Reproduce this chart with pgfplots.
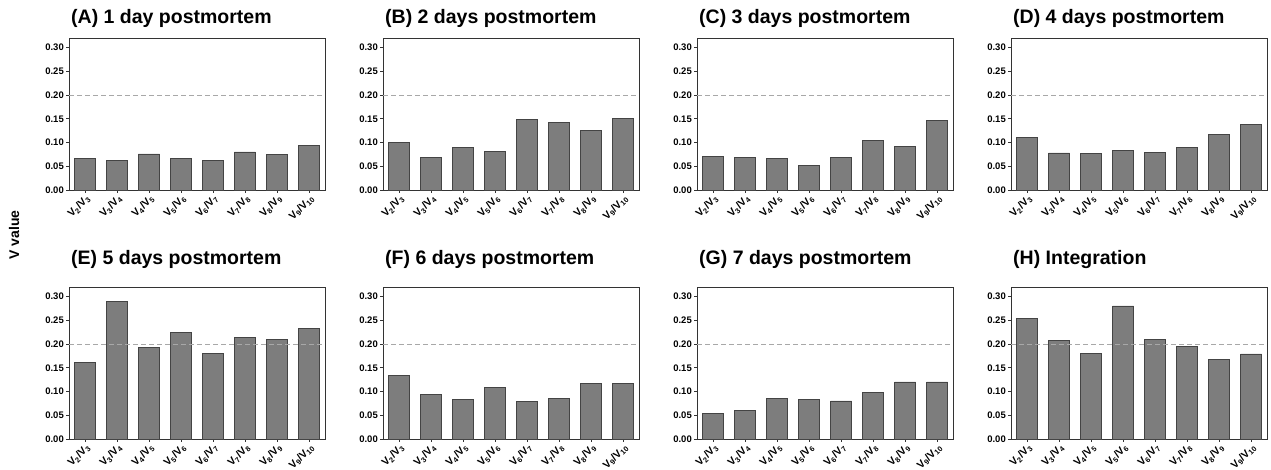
\documentclass[border=0pt]{standalone}
\usepackage{fontspec}
\setmainfont{Liberation Sans}
\usepackage{pgfplots}
\pgfplotsset{compat=1.18}
\definecolor{barfill}{HTML}{7D7D7D}
\definecolor{baredge}{HTML}{444444}
\definecolor{refline}{HTML}{A8A8A8}
\newcommand{\vv}[2]{V\textsubscript{#1}/V\textsubscript{#2}}
\pgfplotsset{panel/.style={
  scale only axis, width=256pt, height=152pt, anchor=south west,
  xmin=-0.5, xmax=7.5, ymin=0, ymax=0.32,
  ytick={0,0.05,0.10,0.15,0.20,0.25,0.30},
  yticklabel style={font=\bfseries\fontsize{9.5}{10}\selectfont, inner sep=2pt,
    /pgf/number format/.cd, fixed, fixed zerofill, precision=2, assume math mode=true},
  xtick={0,...,7},
  xticklabels={\vv{2}{3},\vv{3}{4},\vv{4}{5},\vv{5}{6},\vv{6}{7},\vv{7}{8},\vv{8}{9},\vv{9}{10}},
  xticklabel style={font=\bfseries\fontsize{10.5}{11}\selectfont, rotate=45, anchor=north east, inner sep=0.5pt},
  tick align=outside, tick pos=left, major tick length=3pt,
  tick style={black!80, line width=0.6pt},
  axis line style={draw=black!80, line width=0.8pt},
  title style={anchor=base west, at={(0,1)}, font=\bfseries\fontsize{19.5}{22}\selectfont, xshift=2pt, inner sep=0pt},
  clip=false,
}}
\pgfplotsset{barstyle/.style={ybar, bar width=21pt, fill=barfill, draw=baredge, line width=0.7pt},
  refstyle/.style={refline, line width=0.8pt, dash pattern=on 5pt off 3pt, no marks}}
\newcommand{\panel}[5]{%
  \begin{axis}[panel, at={(#1pt,#2pt)}, title={#3}, title style={yshift=#4}]
    \addplot[barstyle] coordinates {#5};
    \addplot[refstyle] coordinates {(-0.5,0.2) (7.5,0.2)};
  \end{axis}}
\begin{document}
\begin{tikzpicture}
\path[use as bounding box] (0pt,0pt) rectangle (1271pt,470pt);
\panel{69}{280}{(A) 1 day postmortem}{8pt}{(0,0.066) (1,0.063) (2,0.076) (3,0.067) (4,0.062) (5,0.080) (6,0.075) (7,0.093)}
\panel{383}{280}{(B) 2 days postmortem}{8pt}{(0,0.100) (1,0.069) (2,0.090) (3,0.082) (4,0.149) (5,0.142) (6,0.125) (7,0.151)}
\panel{697}{280}{(C) 3 days postmortem}{8pt}{(0,0.071) (1,0.068) (2,0.067) (3,0.052) (4,0.069) (5,0.104) (6,0.092) (7,0.146)}
\panel{1011}{280}{(D) 4 days postmortem}{8pt}{(0,0.111) (1,0.078) (2,0.077) (3,0.084) (4,0.079) (5,0.089) (6,0.117) (7,0.138)}
\panel{69}{31}{(E) 5 days postmortem}{16pt}{(0,0.161) (1,0.289) (2,0.192) (3,0.225) (4,0.181) (5,0.214) (6,0.210) (7,0.233)}
\panel{383}{31}{(F) 6 days postmortem}{16pt}{(0,0.133) (1,0.093) (2,0.084) (3,0.109) (4,0.079) (5,0.086) (6,0.117) (7,0.117)}
\panel{697}{31}{(G) 7 days postmortem}{16pt}{(0,0.054) (1,0.060) (2,0.086) (3,0.083) (4,0.080) (5,0.098) (6,0.120) (7,0.120)}
\panel{1011}{31}{(H) Integration}{16pt}{(0,0.253) (1,0.208) (2,0.180) (3,0.280) (4,0.209) (5,0.195) (6,0.168) (7,0.179)}
\node[rotate=90, font=\bfseries\fontsize{14}{16}\selectfont] at (14pt,235pt) {V value};
\end{tikzpicture}
\end{document}
